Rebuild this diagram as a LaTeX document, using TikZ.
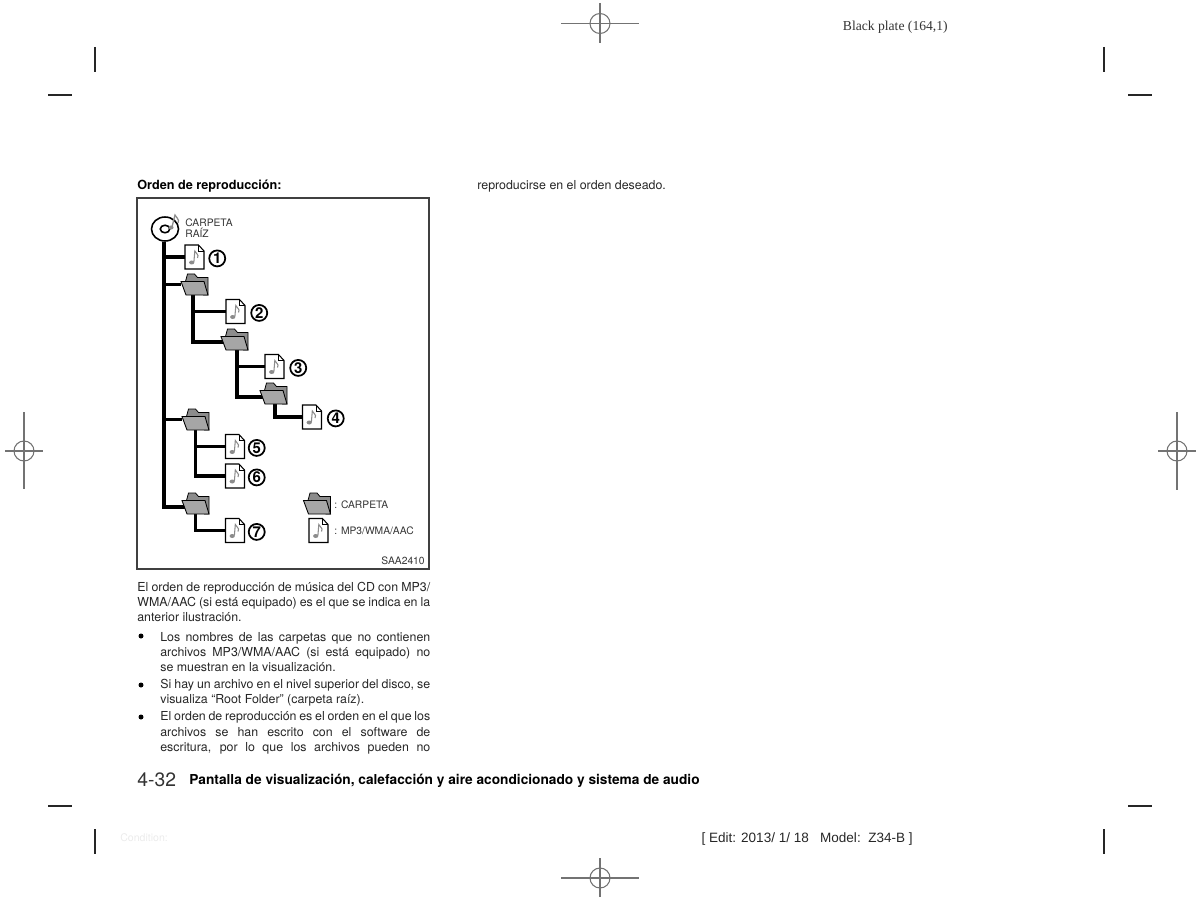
\documentclass[tikz,border=0pt]{standalone}
\usepackage{fontspec}
\setmainfont{TeX Gyre Heros}
\newfontfamily\platefont{Liberation Serif}
\newfontfamily\stampfont{Liberation Sans}
\usetikzlibrary{arrows.meta, positioning, shapes, calc, backgrounds}

\tikzset{
    bodytext/.style={anchor=west, inner sep=0pt, font=\fontsize{7.05}{8.7}\selectfont, align=left, text=black!85},
    labeltext/.style={anchor=west, inner sep=0pt, font=\fontsize{5.85}{6.4}\selectfont, text=black!80},
    headtext/.style={anchor=west, inner sep=0pt, font=\fontsize{7.2}{8}\selectfont\bfseries},
    iconbox/.style={inner sep=0pt, minimum width=0.38cm, minimum height=0.48cm},
    folderbox/.style={inner sep=0pt, minimum width=0.54cm, minimum height=0.42cm},
    numcircle/.style={circle, draw, line width=1pt, minimum size=0.32cm, inner sep=0pt, yshift=-0.8pt, font=\fontsize{8.5}{8.5}\selectfont\bfseries},
    branch/.style={line width=2pt, rounded corners=0pt},
    crop/.style={line width=0.65pt, black!85},
    regline/.style={line width=0.6pt, black!55},
}

% file icon with its note, drawn at a node that already stands
\newcommand{\fileicon}[1]{
    \begin{scope}[shift={(#1.center)}]
        \draw[line width=0.6pt, fill=white] (-9.5,-12) -- (4,-12) -- (9.5,-6) -- (9.5,12) -- (-9.5,12) -- cycle;
        \draw[line width=0.35pt] (4,-12) -- (4,-6) -- (9.5,-6);
        \fill[black!45] (-2.8,5.5) ellipse (2.6 and 2);
        \draw[line width=0.6pt, black!45] (-0.6,5) -- (0.3,-6) .. controls (1,-3) and (5,-3) .. (3,1);
    \end{scope}
}
% folder icon
\newcommand{\foldericon}[1]{
    \begin{scope}[shift={(#1.center)}]
        \draw[line width=0.45pt, fill=black!45] (-9,-3) -- (-7,-10.5) -- (0,-10.5) -- (3,-7) -- (13.5,-7) -- (13.5,10.5) -- (9,10.5) -- cycle;
        \draw[line width=0.5pt, fill=black!35] (-13.5,-3) -- (9.5,-3) -- (13.5,10.5) -- (-8.5,10.5) -- cycle;
    \end{scope}
}
\newcommand{\fullline}[2]{\makebox[#1][s]{#2}}

\begin{document}
\begin{tikzpicture}[x=0.02cm, y=-0.02cm, >=Stealth]
    \useasboundingbox (0,0) rectangle (1200,902);

    % marcas de corte y de registro
    \foreach \x/\y in {600/23.5, 24/451, 600/878, 1177/451}{
        \draw[regline] (\x,\y) circle (10);
    }
    \draw[regline] (561,23.5) -- (639,23.5);
    \draw[regline] (600,3) -- (600,43);
    \draw[regline] (561,878) -- (639,878);
    \draw[regline] (600,858) -- (600,897);
    \draw[regline] (5,451) -- (43,451);
    \draw[regline] (24,412) -- (24,489);
    \draw[regline] (1158,451) -- (1196,451);
    \draw[regline] (1177,412) -- (1177,490);
    \foreach \x in {95, 1104}{
        \draw[crop] (\x,47) -- (\x,72);
        \draw[crop] (\x,829) -- (\x,854);
    }
    \foreach \x in {48, 1128}{
        \draw[crop] (\x,95) -- ++(24,0);
        \draw[crop] (\x,806) -- ++(24,0);
    }

    % textos de la pagina
    \node[anchor=east, inner sep=0pt, font=\platefont\fontsize{7.75}{9}\selectfont, text=black!80] (plate) at (948,27) {Black plate (164,1)};
    \node[headtext] (title) at (137,186.5) {Orden de reproducción:};
    \node[bodytext] (rest) at (477,186.5) {reproducirse en el orden deseado.};
    \node[bodytext] (para) at (137,602) {\fullline{5.86cm}{El orden de reproducción de música del CD con MP3/}\\
        \fullline{5.86cm}{WMA/AAC (si está equipado) es el que se indica en la}\\
        anterior ilustración.};
    \node[bodytext] (item1) at (160,652) {\fullline{5.4cm}{Los nombres de las carpetas que no contienen}\\
        \fullline{5.4cm}{archivos MP3/WMA/AAC (si está equipado) no}\\
        se muestran en la visualización.};
    \node[bodytext] (item2) at (160,693) {\fullline{5.4cm}{Si hay un archivo en el nivel superior del disco, se}\\
        visualiza “Root Folder” (carpeta raíz).};
    \node[bodytext] (item3) at (160,733) {\fullline{5.4cm}{El orden de reproducción es el orden en el que los}\\
        \fullline{5.4cm}{archivos se han escrito con el software de}\\
        \fullline{5.4cm}{escritura, por lo que los archivos pueden no}};
    \foreach \y/\name in {636/bull1, 685/bull2, 717/bull3}{
        \node[circle, fill=black, minimum size=0.1cm, inner sep=0pt] (\name) at (141,\y) {};
    }
    \node[anchor=west, inner sep=0pt, font=\fontsize{11}{12}\selectfont, text=black!80] (page) at (137,780) {4-32};
    \node[headtext, font=\fontsize{7.8}{8}\selectfont\bfseries] (foot) at (189,781) {Pantalla de visualización, calefacción y aire acondicionado y sistema de audio};
    \node[anchor=west, inner sep=0pt, font=\fontsize{6}{7}\selectfont, text=black!8] (cond) at (120,838) {Condition:};
    \node[anchor=east, inner sep=0pt, font=\stampfont\fontsize{7.7}{9}\selectfont, text=black!85] (edit) at (913,839) {[ Edit: 2013/ 1/ 18\ \ \ Model:\ \ Z34-B ]};

    % recuadro de la figura
    \node[draw, line width=0.7pt, black!75, inner sep=0pt, minimum width=5.84cm, minimum height=7.42cm] (frame) at (283,383.5) {};

    % disco raiz
    \node[draw, ellipse, line width=0.9pt, minimum width=0.54cm, minimum height=0.48cm, inner sep=0pt, fill=white] (disc) at (165,229) {};
    \node[draw, ellipse, line width=0.9pt, minimum width=0.19cm, minimum height=0.15cm, inner sep=0pt] (hole) at (165,229) {};
    \coordinate (stem) at ($(disc.south)+(-1,0)$);
    \node[labeltext, align=left] (root) at (185,228.5) {CARPETA\\RAÍZ};
    \draw[line width=0.7pt, black!45] (172,227) -- (175,215) .. controls (176,218) and (180,219) .. (178,223);
    \fill[black!45] (171,227.5) ellipse (2.6 and 2);

    % archivos, carpetas y numeros
    \node[iconbox] (file1) at (194.5,257) {};
    \node[iconbox] (file2) at (235.5,311.5) {};
    \node[iconbox] (file3) at (274.5,366.5) {};
    \node[iconbox] (file4) at (312,417) {};
    \node[iconbox] (file5) at (235,446.5) {};
    \node[iconbox] (file6) at (235,476) {};
    \node[iconbox] (file7) at (235,530.5) {};
    \node[iconbox] (fileKey) at (318.5,530.5) {};
    \node[folderbox] (fold1) at (194.5,284.5) {};
    \node[folderbox] (fold2) at (234.5,339.5) {};
    \node[folderbox] (fold3) at (273.5,393.5) {};
    \node[folderbox] (fold4) at (195.5,419.5) {};
    \node[folderbox] (fold5) at (195.5,503.5) {};
    \node[folderbox] (foldKey) at (317,503.5) {};
    \node[numcircle, right=0.08cm of file1] (num1) {1};
    \node[numcircle, right=0.1cm of file2] (num2) {2};
    \node[numcircle, right=0.1cm of file3] (num3) {3};
    \node[numcircle, right=0.1cm of file4] (num4) {4};
    \node[numcircle, right=0.06cm of file5] (num5) {5};
    \node[numcircle, right=0.06cm of file6] (num6) {6};
    \node[numcircle, right=0.06cm of file7] (num7) {7};
    \node[labeltext] (keyFold) at (334,504.5) {: CARPETA};
    \node[labeltext] (keyFile) at (334,531) {: MP3/WMA/AAC};
    \node[labeltext, anchor=east] (code) at (425,561) {SAA2410};

    % ramas por detras de los iconos
    \begin{scope}[on background layer]
        \draw[branch] (stem) |- (file1);
        \draw[branch] (stem) |- (fold1);
        \draw[branch] (stem) |- (fold4);
        \draw[branch] (stem) |- ($(fold5)+(0,3.5)$);
        \draw[branch] ($(fold1.south)+(-1.5,0)$) |- (file2);
        \draw[branch] ($(fold1.south)+(-1.5,0)$) |- ($(fold2)+(0,2.5)$);
        \draw[branch] ($(fold2.south)+(2.5,0)$) |- (file3);
        \draw[branch] ($(fold2.south)+(2.5,0)$) |- ($(fold3)+(0,3.5)$);
        \draw[branch] ($(fold3.south)+(1.5,0)$) |- (file4);
        \draw[branch] (fold4.south) |- (file5);
        \draw[branch] (fold4.south) |- (file6);
        \draw[branch] (fold5.south) |- (file7);
    \end{scope}

    \foreach \name in {file1, file2, file3, file4, file5, file6, file7, fileKey}{
        \fileicon{\name}
    }
    \foreach \name in {fold1, fold2, fold3, fold4, fold5, foldKey}{
        \foldericon{\name}
    }
\end{tikzpicture}
\end{document}
